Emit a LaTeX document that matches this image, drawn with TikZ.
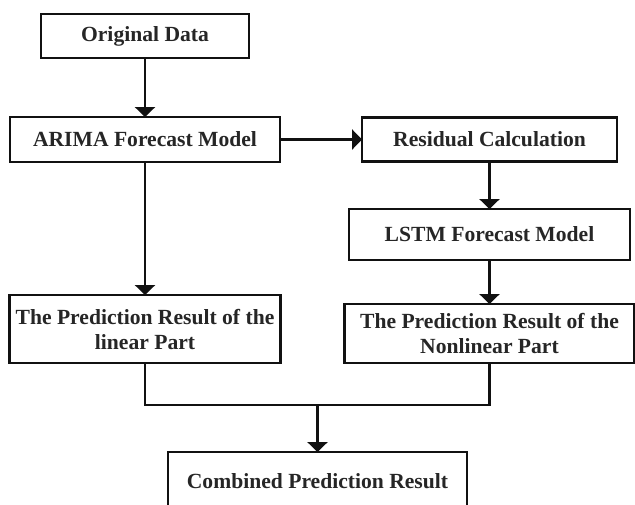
\documentclass[tikz,border=0pt]{standalone}
\usepackage{fontspec}
\setmainfont{Liberation Serif}
\usepackage{tikz}
\usepackage{xcolor}
\usetikzlibrary{arrows.meta}
\definecolor{ink}{HTML}{111111}
\definecolor{textink}{HTML}{262626}
\tikzset{
  flowbox/.style={draw=ink,fill=white,line width=2.7pt,align=center,
                  inner sep=0pt,outer sep=0pt,text=textink,
                  font=\fontsize{21.6}{25}\selectfont\bfseries},
  flowarr/.style={-{Triangle[length=10pt,width=20pt]},line width=2.7pt,
                  draw=ink},
  flowline/.style={line width=2.7pt,draw=ink}
}
\begin{document}
\begin{tikzpicture}[x=1pt,y=-1pt]
        \useasboundingbox (0,0) rectangle (635,504);
        \clip (0,0) rectangle (635,504);
        \node[flowbox,minimum width=208,minimum height=44] (orig) at (145,36)
          {Original Data};
        \node[flowbox,minimum width=270,minimum height=45] (arima) at (145,139.5)
          {ARIMA Forecast Model};
        \node[flowbox,minimum width=255,minimum height=44] (resid) at (489.5,139.5)
          {Residual Calculation};
        \node[flowbox,minimum width=281,minimum height=51] (lstm) at (489.5,234.5)
          {LSTM Forecast Model};
        \node[flowbox,minimum width=271,minimum height=68] (linear) at (145,329)
          {The Prediction Result of the\\linear Part};
        \node[flowbox,minimum width=290,minimum height=59] (nonlin) at (489.5,333.5)
          {The Prediction Result of the\\Nonlinear Part};
        \node[flowbox,minimum width=299,minimum height=58] (comb) at (317.5,481)
          {Combined Prediction Result};
        \coordinate (join) at (317.5,405);
        % arrows
        \draw[flowarr] (orig) -- (arima);
        \draw[flowarr] (arima) -- (resid);
        \draw[flowarr] (resid) -- (lstm);
        \draw[flowarr] (lstm) -- (nonlin);
        \draw[flowarr] (arima) -- (linear);
        \draw[flowline] (linear.south) |- (join);
        \draw[flowline] (nonlin.south) |- (join);
        \draw[flowarr] (join) -- (comb.north);
      \end{tikzpicture}
\end{document}
